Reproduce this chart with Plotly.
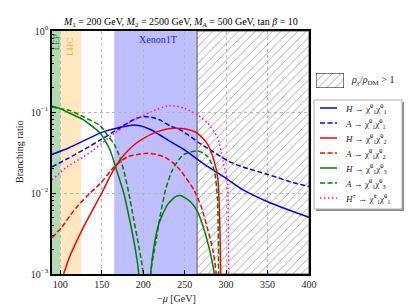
import plotly.graph_objects as go

# ---------------- data ----------------
lep_range = [90, 100]
lhc_range = [100, 125]
xenon_range = [165, 265]
relic_range = [265, 400]
x_limits = [90, 400]
y_limits = [1e-3, 1.0]

x_ticks = [100, 150, 200, 250, 300, 350, 400]
y_ticks = [1e-3, 1e-2, 1e-1, 1.0]
y_tick_labels = ["10<sup>−3</sup>", "10<sup>−2</sup>", "10<sup>−1</sup>", "10<sup>0</sup>"]

mu_h11 = [90, 110, 130, 150, 170, 190, 200, 210, 220, 233, 250, 270, 285, 300, 320, 350, 375, 400]
br_h11 = [0.030, 0.036, 0.045, 0.056, 0.064, 0.069, 0.066, 0.060, 0.052, 0.043, 0.034, 0.024, 0.019,
          0.0152, 0.011, 0.0078, 0.0062, 0.0050]

mu_a11 = [90, 110, 130, 148, 170, 190, 200, 210, 220, 233, 245, 270, 285, 302, 320, 350, 375, 400]
br_a11 = [0.021, 0.027, 0.035, 0.045, 0.062, 0.082, 0.088, 0.086, 0.080, 0.067, 0.060, 0.040, 0.032,
          0.025, 0.021, 0.017, 0.014, 0.012]

mu_h12 = [104, 112, 128, 150, 160, 170, 180, 190, 200, 215, 230, 240, 250, 265, 277, 285, 290, 292, 293.5, 294]
br_h12 = [0.001, 0.0017, 0.0038, 0.010, 0.016, 0.024, 0.032, 0.040, 0.047, 0.056, 0.062, 0.063, 0.062,
          0.055, 0.041, 0.026, 0.015, 0.006, 0.001, 1e-6]

mu_a12 = [90, 102, 112, 122, 136, 148, 165, 181, 195, 205, 215, 225, 235, 245, 261, 270, 278, 284, 288, 289.5]
br_a12 = [0.0028, 0.0038, 0.0053, 0.0071, 0.010, 0.013, 0.021, 0.028, 0.030, 0.031, 0.030, 0.028, 0.024,
          0.019, 0.011, 0.0068, 0.0035, 0.002, 0.001, 1e-6]

mu_h13 = [90, 100, 110, 128, 148, 160, 168, 176.5, 184.6, 190.6, 194.7, 202, 209, 213, 219, 229, 239,
          245, 257, 265.6, 273.6, 280, 285.7, 288]
br_h13 = [0.119, 0.110, 0.098, 0.080, 0.055, 0.034, 0.019, 0.010, 0.0042, 0.002, 0.001, 1e-7, 0.001,
          0.0022, 0.0042, 0.0071, 0.009, 0.0093, 0.0078, 0.0059, 0.0035, 0.002, 0.001, 1e-6]

mu_a13 = [90, 100, 112, 128, 148, 158, 165, 170, 176, 182.6, 188.6, 194.7, 200, 204.5, 209, 215, 221,
          227, 235, 247, 257, 265, 270, 278, 285.7, 289.5, 290.5, 291, 292]
br_a13 = [0.115, 0.110, 0.104, 0.087, 0.068, 0.050, 0.040, 0.031, 0.020, 0.010, 0.0047, 0.0022, 0.001,
          1e-7, 0.001, 0.0024, 0.0056, 0.011, 0.019, 0.029, 0.032, 0.033, 0.032, 0.028, 0.019, 0.009,
          0.0035, 0.001, 1e-6]

mu_hpm = [90, 108, 128, 140, 150, 168, 189, 209, 229, 240, 250, 265.6, 277.7, 290, 297.6, 301.5, 302.8, 303.2]
br_hpm = [0.0145, 0.021, 0.028, 0.034, 0.041, 0.057, 0.080, 0.100, 0.119, 0.118, 0.111, 0.092, 0.073,
          0.048, 0.021, 0.0145, 0.003, 1e-6]

chi = "χ̃"
series = [
    ("<i>H</i> → " + chi + "<sup>0</sup><sub>1</sub>" + chi + "<sup>0</sup><sub>1</sub>", mu_h11, br_h11, "#0000ff", "solid"),
    ("<i>A</i> → " + chi + "<sup>0</sup><sub>1</sub>" + chi + "<sup>0</sup><sub>1</sub>", mu_a11, br_a11, "#0000ff", "5px,2.5px"),
    ("<i>H</i> → " + chi + "<sup>0</sup><sub>1</sub>" + chi + "<sup>0</sup><sub>2</sub>", mu_h12, br_h12, "#ff0000", "solid"),
    ("<i>A</i> → " + chi + "<sup>0</sup><sub>1</sub>" + chi + "<sup>0</sup><sub>2</sub>", mu_a12, br_a12, "#ff0000", "5px,2.5px"),
    ("<i>H</i> → " + chi + "<sup>0</sup><sub>1</sub>" + chi + "<sup>0</sup><sub>3</sub>", mu_h13, br_h13, "#008000", "solid"),
    ("<i>A</i> → " + chi + "<sup>0</sup><sub>1</sub>" + chi + "<sup>0</sup><sub>3</sub>", mu_a13, br_a13, "#008000", "5px,2.5px"),
    ("<i>H</i><sup>±</sup> → " + chi + "<sup>±</sup><sub>1</sub>" + chi + "<sup>0</sup><sub>1</sub>", mu_hpm, br_hpm, "#ff00ff", "1.5px,2.5px"),
]

title_text = ("<i>M</i><sub>1</sub> = 200 GeV, <i>M</i><sub>2</sub> = 2500 GeV, "
              "<i>M<sub>A</sub></i> = 500 GeV, tan <i>β</i> = 10")
relic_label = "<i>ρ<sub>χ</sub></i>/<i>ρ</i><sub>DM</sub> > 1"
x_title = "−<i>μ</i> [GeV]"
y_title = "Branching ratio"

FONT = "Liberation Serif"

# ---------------- layout geometry ----------------
W, H = 415, 306
ml, mr, mt, mb = 52, 5, 31, 32
pw, ph = W - ml - mr, H - mt - mb
plot_right_px = 309


def px2x(px):
    return (px - ml) / pw


def py2y(py):
    return (H - mb - py) / ph


fig = go.Figure()

# hatched relic-density region
fig.add_trace(go.Scatter(
    x=[relic_range[0], relic_range[0], relic_range[1], relic_range[1], relic_range[0]],
    y=[y_limits[0], y_limits[1], y_limits[1], y_limits[0], y_limits[0]],
    mode="lines", fill="toself", fillcolor="rgba(0,0,0,0)",
    fillpattern=dict(shape="/", size=6, solidity=0.12, fgcolor="#8a8a8a",
                     bgcolor="rgba(0,0,0,0)", fillmode="replace"),
    line=dict(color="#555555", width=1), showlegend=False, hoverinfo="skip"))

for name, xs, ys, col, dash in series:
    fig.add_trace(go.Scatter(x=xs, y=ys, mode="lines", name=name,
                             line=dict(color=col, width=1.5, dash=dash, shape="spline", smoothing=0.6),
                             showlegend=False))

shapes = []
for rng, col in [(lep_range, "rgba(0,128,0,0.3)"), (lhc_range, "rgba(255,165,0,0.25)"),
                 (xenon_range, "rgba(0,0,255,0.25)")]:
    shapes.append(dict(type="rect", xref="x", yref="paper", x0=rng[0], x1=rng[1], y0=0, y1=1,
                       fillcolor=col, line=dict(width=0), layer="below"))

# manual legend box (with shadow)
lx0, lx1, ly0, ly1 = 314, 402, 100, 209
shapes.append(dict(type="rect", xref="paper", yref="paper",
                   x0=px2x(lx0 + 2), x1=px2x(lx1 + 2), y0=py2y(ly1 + 2), y1=py2y(ly0 + 2),
                   fillcolor="#8c8c8c", line=dict(width=0), layer="above"))
shapes.append(dict(type="rect", xref="paper", yref="paper",
                   x0=px2x(lx0), x1=px2x(lx1), y0=py2y(ly1), y1=py2y(ly0),
                   fillcolor="white", line=dict(color="#b0b0b0", width=1), layer="above"))

annotations = []
for i, (name, xs, ys, col, dash) in enumerate(series):
    yc = 108 + 15 * i
    shapes.append(dict(type="line", xref="paper", yref="paper", x0=px2x(320), x1=px2x(337),
                       y0=py2y(yc), y1=py2y(yc), line=dict(color=col, width=1.5, dash=dash), layer="above"))
    annotations.append(dict(text=name, xref="paper", yref="paper", x=px2x(343), y=py2y(yc),
                            xanchor="left", yanchor="middle", showarrow=False,
                            font=dict(family=FONT, size=9, color="#222")))

annotations += [
    dict(text=title_text, xref="x domain", yref="paper", x=0.5, y=py2y(22), yanchor="middle",
         showarrow=False, font=dict(family=FONT, size=10, color="black")),
    dict(text="LEP", xref="x", yref="paper", x=sum(lep_range) / 2, y=1, yanchor="top", yshift=-1,
         textangle=-90, showarrow=False, font=dict(family=FONT, size=9, color="#1f7a1f")),
    dict(text="LHC", xref="x", yref="paper", x=111.5, y=1, yanchor="top", yshift=-5,
         textangle=-90, showarrow=False, font=dict(family=FONT, size=9, color="#f2a22a")),
    dict(text="Xenon1T", xref="x", yref="paper", x=sum(xenon_range) / 2 + 3, y=1, yanchor="top",
         yshift=-1, showarrow=False, font=dict(family=FONT, size=10, color="#2020ff")),
    dict(text=relic_label, xref="paper", yref="paper", x=px2x(349), y=py2y(80), xanchor="left",
         yanchor="middle", showarrow=False, font=dict(family=FONT, size=10, color="#222")),
    dict(text=x_title, xref="paper", yref="paper", x=px2x(176), y=py2y(298), yanchor="middle",
         showarrow=False, font=dict(family=FONT, size=10, color="#222")),
    dict(text=y_title, xref="paper", yref="paper", x=px2x(19), y=py2y(152), xanchor="center",
         yanchor="middle", textangle=-90, showarrow=False, font=dict(family=FONT, size=10, color="#222")),
]

# hatched legend swatch on an auxiliary hidden axis pair
fig.add_trace(go.Scatter(
    x=[0, 1, 1, 0, 0], y=[0, 0, 1, 1, 0], xaxis="x2", yaxis="y2", mode="lines", fill="toself",
    fillcolor="rgba(0,0,0,0)",
    fillpattern=dict(shape="/", size=6, solidity=0.12, fgcolor="#8a8a8a",
                     bgcolor="rgba(0,0,0,0)", fillmode="replace"),
    line=dict(color="black", width=1), showlegend=False, hoverinfo="skip"))

minor_vals = [k * 10.0 ** e for e in (-3, -2, -1) for k in range(2, 10)]

fig.update_layout(
    width=W, height=H, margin=dict(l=ml, r=mr, t=mt, b=mb, autoexpand=False),
    paper_bgcolor="white", plot_bgcolor="white",
    font=dict(family=FONT, size=10, color="black"),
    showlegend=False,
    shapes=shapes, annotations=annotations,
    xaxis=dict(domain=[0, px2x(plot_right_px)], range=x_limits, tickvals=x_ticks, automargin=False,
               ticks="inside", ticklen=4, tickwidth=1, tickcolor="black",
               showline=True, linecolor="black", linewidth=1.5, mirror=True,
               showgrid=True, gridcolor="#b8b8b8", griddash="dot", gridwidth=1,
               zeroline=False, tickfont=dict(family=FONT, size=10, color="#222")),
    yaxis=dict(type="log", range=[-3, 0], tickvals=y_ticks, ticktext=y_tick_labels, automargin=False,
               ticks="inside", ticklen=4, tickwidth=1, tickcolor="black",
               minor=dict(tickvals=minor_vals, ticks="inside", ticklen=2, tickcolor="black", showgrid=False),
               showline=True, linecolor="black", linewidth=1.5, mirror=True,
               showgrid=True, gridcolor="#b8b8b8", griddash="dot", gridwidth=1,
               zeroline=False, tickfont=dict(family=FONT, size=10, color="#222")),
    xaxis2=dict(domain=[px2x(316), px2x(344)], range=[0, 1], visible=False, anchor="y2",
                fixedrange=True, automargin=False),
    yaxis2=dict(domain=[py2y(88), py2y(73)], range=[0, 1], visible=False, anchor="x2",
                fixedrange=True, automargin=False),
)

fig.write_html("out.html", config={"displayModeBar": False},
               post_script="document.body.style.margin='0px';")
